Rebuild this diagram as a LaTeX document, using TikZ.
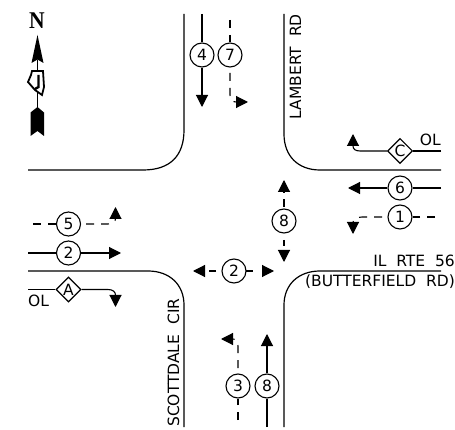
\documentclass[tikz,border=0pt]{standalone}
\usepackage{fontspec}
\setmainfont{DejaVu Sans}
\usetikzlibrary{arrows.meta,shapes.geometric}
\newfontfamily\northfont{Liberation Serif}
\tikzset{
  x=1pt,y=-1pt,
  road/.style={line width=1.2pt},
  flow/.style={line width=1.1pt,-{Triangle[length=12pt,width=12pt]}},
  plainflow/.style={line width=1.1pt},
  dashflow/.style={line width=1.1pt,dash pattern=on 8pt off 7pt},
  dasharrow/.style={dashflow,-{Triangle[length=12pt,width=12pt]}},
  phase/.style={circle,draw,line width=1.1pt,fill=white,minimum size=24pt,inner sep=0pt,font=\fontsize{15.5}{15.5}\selectfont},
  overlap/.style={diamond,draw,line width=1.1pt,fill=white,minimum size=25pt,inner sep=0pt,font=\fontsize{15.5}{15.5}\selectfont},
  label/.style={font=\fontsize{15.5}{15.5}\selectfont,inner sep=0pt}
}
\begin{document}
\begin{tikzpicture}
\useasboundingbox (0,0) rectangle (455,430);
% roads
\coordinate (nwa) at (184,14); \coordinate (nwb) at (28,170);
\draw[road] (nwa) -- (184,130) .. controls (184,156) and (170,170) .. (143,170) -- (nwb);
\coordinate (nea) at (284,14); \coordinate (neb) at (441,170);
\draw[road] (nea) -- (284,134) .. controls (284,156) and (298,170) .. (320,170) -- (neb);
\coordinate (swa) at (28,271); \coordinate (swb) at (184,427);
\draw[road] (swa) -- (148,271) .. controls (170,271) and (184,285) .. (184,305) -- (swb);
\coordinate (sea) at (441,271); \coordinate (seb) at (284,427);
\draw[road] (sea) -- (320,271) .. controls (298,271) and (284,285) .. (284,305) -- (seb);
% nodes
\node[phase] (p4) at (202,55) {4};
\node[phase] (p7) at (230,55) {7};
\node[phase] (p6) at (400,188) {6};
\node[phase] (p1) at (400,217) {1};
\node[phase] (p8n) at (284,221) {8};
\node[phase] (p5) at (68.5,224) {5};
\node[phase] (p2w) at (68.5,253) {2};
\node[phase] (p2c) at (234,271) {2};
\node[phase] (p3) at (238,386) {3};
\node[phase] (p8s) at (267,386) {8};
\node[overlap] (dc) at (400,151) {C};
\node[overlap] (da) at (68.5,289.5) {A};
% free ends
\coordinate (t4a) at (202,14); \coordinate (t4b) at (202,107);
\coordinate (t7a) at (230,20); \coordinate (t7b) at (230,73); \coordinate (t7c) at (248,102);
\coordinate (t6a) at (441,188); \coordinate (t6b) at (348,188);
\coordinate (tca) at (441,151); \coordinate (tcb) at (353,134);
\coordinate (t1a) at (435,217); \coordinate (t1b) at (382,217); \coordinate (t1c) at (353,234);
\coordinate (t8a) at (284,207); \coordinate (t8b) at (284,180);
\coordinate (t8c) at (284,240); \coordinate (t8d) at (284,262);
\coordinate (t5a) at (33,224); \coordinate (t5b) at (86,224); \coordinate (t5c) at (115.5,207);
\coordinate (t2a) at (28,253); \coordinate (t2b) at (121,253);
\coordinate (taa) at (28,289.5); \coordinate (tab) at (115.5,307);
\coordinate (tcl) at (216,271); \coordinate (tcl2) at (193,271);
\coordinate (tcr) at (246,271); \coordinate (tcr2) at (274,271);
\coordinate (t3a) at (238,420); \coordinate (t3b) at (238,368); \coordinate (t3c) at (221,339);
\coordinate (t8e) at (267,427); \coordinate (t8f) at (267,334);
% connectors
\draw[plainflow] (t4a) -- (p4);
\draw[flow] (p4) -- (t4b);
\draw[dashflow] (t7a) -- (p7.north);
\draw[dasharrow] (t7b) -- (230,95) .. controls (230,100) and (232,102) .. (t7c);
\draw[plainflow] (t6a) -- (p6);
\draw[flow] (p6) -- (t6b);
\draw[plainflow] (tca) -- (dc);
\draw[flow] (dc) -- (360,151) .. controls (355,151) and (353,149) .. (tcb);
\draw[dashflow] (t1a) -- (p1.east);
\draw[dasharrow] (t1b) -- (362,217) .. controls (356,217) and (353,220) .. (t1c);
\draw[dasharrow] (t8a) -- (t8b);
\draw[dasharrow,dash pattern=on 6pt off 20pt] (t8c) -- (t8d);
\draw[dashflow] (t5a) -- (p5.west);
\draw[dasharrow] (t5b) -- (108,224) .. controls (113,224) and (115.5,221) .. (t5c);
\draw[plainflow] (t2a) -- (p2w);
\draw[flow] (p2w) -- (t2b);
\draw[plainflow] (taa) -- (da);
\draw[flow] (da) -- (108,289.5) .. controls (113,289.5) and (115.5,292) .. (tab);
\draw[dasharrow,dash pattern=on 7pt off 20pt] (tcl) -- (tcl2);
\draw[dasharrow,dash pattern=on 7pt off 20pt] (tcr) -- (tcr2);
\draw[dashflow] (t3a) -- (p3.south);
\draw[dasharrow] (t3b) -- (238,346) .. controls (238,341) and (236,339) .. (t3c);
\draw[plainflow] (t8e) -- (p8s);
\draw[flow] (p8s) -- (t8f);
% labels
\node[label,anchor=base east] (ol1) at (441,146) {OL};
\node[label,anchor=base west] (ol2) at (28,306) {OL};
\node[label,anchor=base east] (il) at (455,267) {IL\ \ RTE\ \ 56};
\node[label,anchor=base east] (bf) at (455,287) {(BUTTERFIELD\ \ RD)};
\node[label,rotate=90,anchor=base west] (sc) at (179,427) {SCOTTDALE\ \ CIR};
\node[label,rotate=90,anchor=base east] (lb) at (301,14) {LAMBERT\ \ RD};
% north arrow
\node[font=\northfont\bfseries\fontsize{24}{24}\selectfont,inner sep=0pt,xscale=.9] (north) at (37,21) {N};
\fill (37.5,35) -- (43.5,63) -- (37.5,59.5) -- (31.5,63) -- cycle;
\draw[line width=1.5pt] (37.5,60) -- (37.5,110);
\fill (37.5,107) -- (44,112.5) -- (44,136) -- (37.5,131) -- (30.5,136) -- (30.5,112.5) -- cycle;
\draw[line width=1.8pt,fill=white] (32,71) -- (43,71) -- (44,87) -- (42,95) -- (35,90) -- (28,82) -- (31,75) -- cycle;
\draw[line width=2.4pt] (38.5,75) -- (38.5,87) -- (35,89);
\end{tikzpicture}
\end{document}
